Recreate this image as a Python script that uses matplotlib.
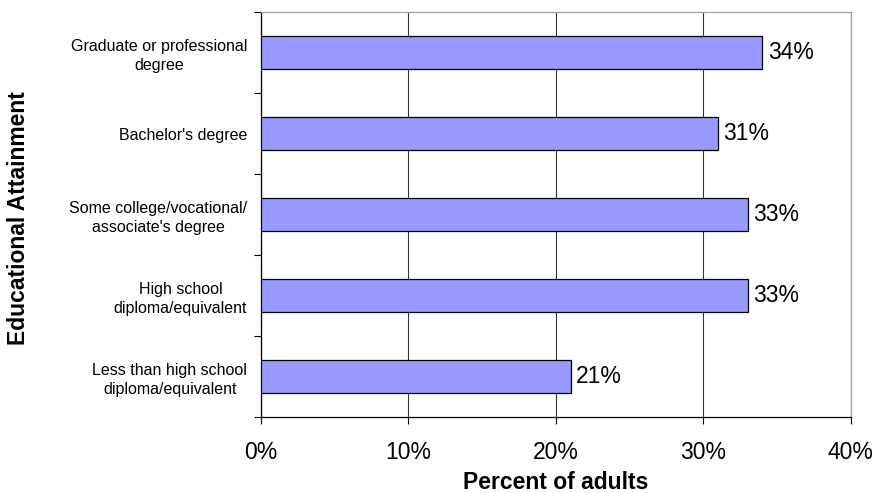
import matplotlib.pyplot as plt
import numpy as np

plt.rcParams['font.family'] = ['Liberation Sans', 'DejaVu Sans']

# Data (bottom to top)
categories = ['Less than high school\ndiploma/equivalent',
              'High school\ndiploma/equivalent',
              "Some college/vocational/\nassociate's degree",
              "Bachelor's degree",
              'Graduate or professional\ndegree']
values = [21, 33, 33, 31, 34]
xticks = [0, 10, 20, 30, 40]

fig = plt.figure(figsize=(8.74, 4.93), dpi=100)
ax = fig.add_axes([0.2986, 0.154, 0.675, 0.8217])

y = np.arange(len(categories))
ax.barh(y, values, height=0.41, color='#9999FF', edgecolor='black', linewidth=0.9, zorder=3)

for yi, v in zip(y, values):
    ax.text(v + 0.35, yi, f'{v}%', va='center', ha='left', fontsize=16.5, zorder=4)

ax.set_xlim(0, 40)
ax.set_ylim(-0.5, len(categories) - 0.5)

ax.set_xticks(xticks)
ax.set_xticklabels([f'{t}%' for t in xticks], fontsize=16.5)
ax.tick_params(axis='x', direction='out', length=5, width=0.8, pad=12)
ax.xaxis.grid(True, color='#333333', linewidth=0.8, zorder=0)

ax.set_yticks(y)
ax.set_yticklabels(categories, fontsize=11.5, multialignment='center', linespacing=1.35)
ax.set_yticks(np.arange(-0.5, len(categories), 1), minor=True)
ax.tick_params(axis='y', which='major', length=0, pad=10)
ax.tick_params(axis='y', which='minor', direction='out', length=5, width=0.8)

for s in ['top', 'right']:
    ax.spines[s].set_color('#a0a0a0')
    ax.spines[s].set_linewidth(0.9)
for s in ['left', 'bottom']:
    ax.spines[s].set_color('black')
    ax.spines[s].set_linewidth(0.9)

ax.set_xlabel('Percent of adults', fontsize=16.5, fontweight='bold', labelpad=5)
fig.text(0.021, 0.558, 'Educational Attainment', rotation=90, fontsize=16.5,
         fontweight='bold', ha='center', va='center')

plt.savefig('out.png', dpi=100)
